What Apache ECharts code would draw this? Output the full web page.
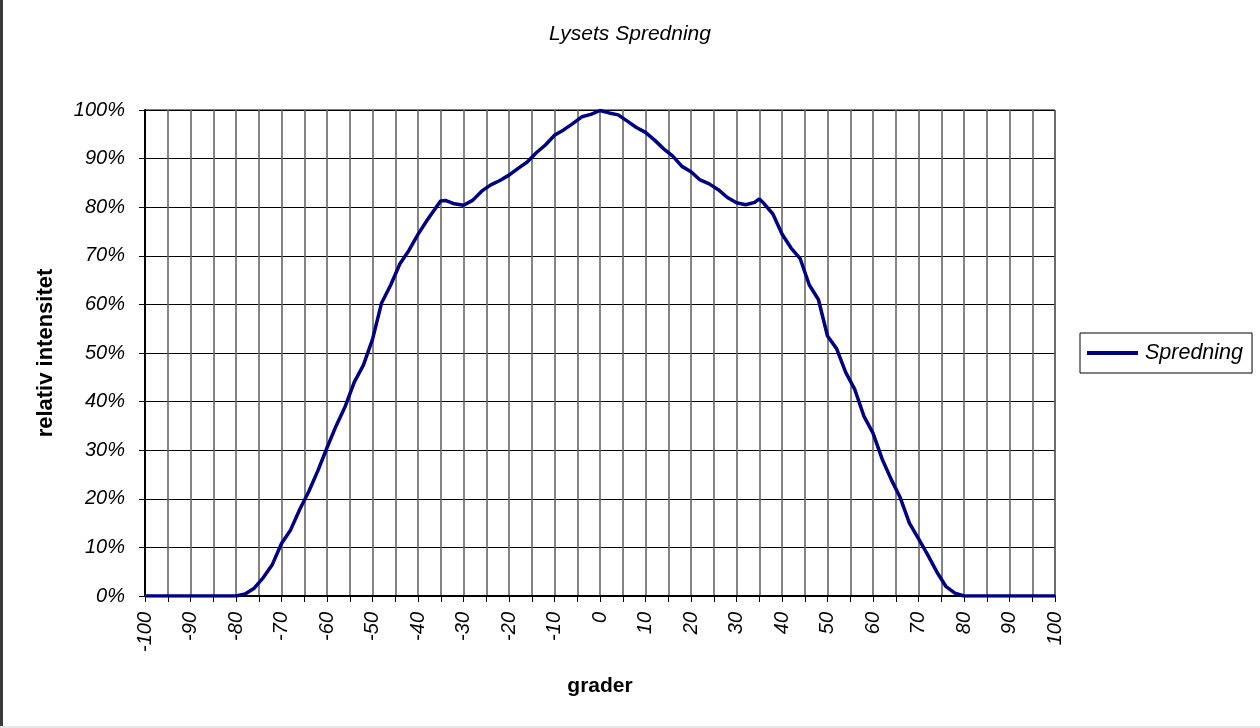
<!DOCTYPE html>
<html>
<head>
<meta charset="utf-8">
<script src="https://cdn.jsdelivr.net/npm/echarts@6/dist/echarts.min.js"></script>
<style>
html,body{margin:0;padding:0;background:#fff;}
#c{width:1260px;height:728px;}
</style>
</head>
<body>
<div id="c"></div>
<script>
var degrees = [-100,-90,-80,-78,-76,-74,-72,-70,-68,-66,-64,-62,-60,-58,-56,-54,-52,-50,-48,-46,-44,-42,-40,-38,-36,-35,-34,-32,-30,-28,-26,-24,-22,-20,-18,-16,-14,-12,-10,-8,-6,-4,-2,0,2,4,6,8,10,12,14,16,18,20,22,24,26,28,30,32,34,35,36,38,40,42,44,46,48,50,52,54,56,58,60,62,64,66,68,70,72,74,76,78,80,90,100];
var intensity = [0,0,0,0.4,1.6,3.8,6.5,10.8,13.6,17.8,21.5,25.8,30.5,35.0,39.0,44.0,47.5,52.8,60.3,64.0,68.3,71.1,74.4,77.3,80.0,81.3,81.4,80.7,80.4,81.4,83.3,84.6,85.5,86.6,88.0,89.3,91.2,92.8,94.8,95.9,97.2,98.6,99.1,99.9,99.4,99.0,97.7,96.4,95.4,93.8,92.0,90.5,88.4,87.3,85.6,84.8,83.6,82.0,80.9,80.5,81.0,81.7,80.8,78.6,74.5,71.6,69.4,64.0,61.0,53.5,50.9,46.0,42.5,37.0,33.5,28.2,24.0,20.2,15.0,11.8,8.5,5.0,2.0,0.6,0,0,0];
var seriesName = 'Spredning';
var chartTitle = 'Lysets Spredning';
var xName = 'grader';
var yName = 'relativ intensitet';

var pts = degrees.map(function(d,i){return [d,intensity[i]];});
var font = 'Liberation Sans, Arial, sans-serif';
var chart = echarts.init(document.getElementById('c'));
chart.setOption({
  animation:false,
  backgroundColor:'#fff',
  title:{text:chartTitle,left:'center',top:19,
    textStyle:{fontFamily:font,fontStyle:'italic',fontWeight:'normal',fontSize:21,color:'#000'}},
  legend:{
    data:[seriesName],left:1080,top:333,orient:'vertical',
    borderColor:'#000',borderWidth:1,padding:[9,9,9,7],
    itemWidth:51,itemHeight:4,itemGap:0,icon:'rect',
    textStyle:{fontFamily:font,fontStyle:'italic',fontSize:21.5,color:'#000',padding:[0,0,0,2]}
  },
  grid:{left:145,right:205,top:110,bottom:132,show:true,borderColor:'#000',borderWidth:1,backgroundColor:'#fff'},
  xAxis:{
    type:'value',min:-100,max:100,interval:5,
    name:xName,nameLocation:'middle',nameGap:80,
    nameTextStyle:{fontFamily:font,fontWeight:'bold',fontSize:21,color:'#000'},
    axisLine:{show:true,onZero:false,lineStyle:{color:'#000',width:2}},
    axisTick:{show:true,length:6,lineStyle:{color:'#000',width:1}},
    axisLabel:{rotate:90,margin:16,fontFamily:font,fontStyle:'italic',fontSize:20,color:'#000',
      formatter:function(v){return (v%10===0)?String(v):'';}},
    splitLine:{show:true,lineStyle:{color:'#666',width:1.6}}
  },
  yAxis:{
    type:'value',min:0,max:100,interval:10,
    name:yName,nameLocation:'middle',nameGap:88,nameRotate:90,
    nameTextStyle:{fontFamily:font,fontWeight:'bold',fontSize:22,color:'#000'},
    axisLine:{show:true,onZero:false,lineStyle:{color:'#000',width:2}},
    axisTick:{show:true,length:6,lineStyle:{color:'#000',width:1}},
    axisLabel:{margin:20,fontFamily:font,fontStyle:'italic',fontSize:20,color:'#000',formatter:'{value}%'},
    splitLine:{show:true,lineStyle:{color:'#000',width:1}}
  },
  series:[{
    name:seriesName,type:'line',data:pts,showSymbol:false,symbol:'none',
    lineStyle:{color:'#000080',width:3.5},itemStyle:{color:'#000080'},z:5
  }],
  graphic:[
    {type:'rect',left:0,top:0,shape:{width:3,height:728},style:{fill:'#3a3a3a'}},
    {type:'rect',left:0,top:726,shape:{width:1260,height:2},style:{fill:'#e6e6e6'}}
  ]
});
</script>
</body>
</html>
